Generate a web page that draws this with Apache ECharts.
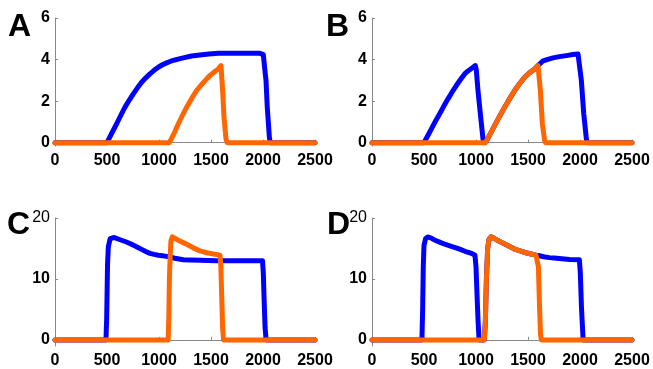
<!DOCTYPE html>
<html>
<head>
<meta charset="utf-8">
<script src="https://cdn.jsdelivr.net/npm/echarts@6/dist/echarts.min.js"></script>
<style>
  html, body { margin: 0; padding: 0; background: #fff; }
  #chart { width: 653px; height: 369px; }
</style>
</head>
<body>
<div id="chart"></div>
<script>
// Time axis (ms) shared by all four panels
const xTicks = [0, 500, 1000, 1500, 2000, 2500];
const yTicksTop = [0, 2, 4, 6];
const yTicksBottom = [0, 10, 20];
const panelLetters = ['A', 'B', 'C', 'D'];

// Panel A
const aBlueT = [0, 500, 510, 550, 593, 633, 673, 713, 753, 793, 833, 873, 913, 953, 993, 1033, 1073, 1113, 1153, 1193, 1233, 1313, 1394, 1480, 1570, 1750, 1971, 2003, 2020, 2029, 2041, 2061, 2070, 2500];
const aBlueV = [0, 0, 0.08, 0.5, 0.91, 1.32, 1.71, 2.04, 2.35, 2.64, 2.91, 3.12, 3.31, 3.48, 3.63, 3.75, 3.84, 3.92, 3.98, 4.03, 4.08, 4.17, 4.22, 4.27, 4.3, 4.3, 4.3, 4.24, 3.4, 2.99, 1.71, 0.27, 0, 0];
const aOrangeT = [0, 1100, 1110, 1150, 1186, 1226, 1266, 1314, 1362, 1410, 1459, 1495, 1530, 1570, 1596, 1612, 1625, 1644, 1655, 2500];
const aOrangeV = [0, 0, 0.08, 0.5, 0.91, 1.32, 1.71, 2.13, 2.51, 2.8, 3.07, 3.25, 3.4, 3.55, 3.71, 2.51, 1.23, 0.19, 0, 0];

// Panel B
const bBlueT = [0, 500, 507, 545, 580, 615, 651, 691, 731, 771, 811, 851, 891, 920, 950, 993, 1003, 1019, 1045, 1067, 1075, 1090, 1100, 1140, 1180, 1228, 1276, 1324, 1372, 1420, 1468, 1516, 1564, 1596, 1640, 1690, 1740, 1800, 1869, 1930, 1981, 2000, 2013, 2036, 2061, 2070, 2500];
const bBlueV = [0, 0, 0.08, 0.42, 0.75, 1.08, 1.39, 1.76, 2.11, 2.44, 2.75, 3.04, 3.31, 3.44, 3.55, 3.71, 3.5, 2.51, 1.23, 0.19, 0, 0, 0.08, 0.45, 0.83, 1.28, 1.71, 2.12, 2.51, 2.85, 3.15, 3.37, 3.55, 3.71, 3.92, 4.01, 4.08, 4.14, 4.19, 4.24, 4.27, 4.2, 2.99, 1.39, 0.19, 0, 0];
const bOrangeT = [0, 1090, 1100, 1140, 1180, 1228, 1276, 1324, 1372, 1420, 1468, 1516, 1564, 1596, 1619, 1638, 1660, 1668, 2500];
const bOrangeV = [0, 0, 0.08, 0.45, 0.83, 1.28, 1.71, 2.12, 2.51, 2.85, 3.15, 3.37, 3.55, 3.71, 2.51, 0.91, 0.1, 0, 0];

// Panel C
const cBlueT = [0, 490, 497, 505, 513, 530, 545, 570, 600, 640, 680, 715, 753, 793, 833, 873, 913, 953, 993, 1033, 1073, 1113, 1153, 1193, 1233, 1300, 1400, 1554, 1995, 2003, 2010, 2020, 2030, 2500];
const cBlueV = [0, 0, 3.6, 12.3, 15.3, 16.6, 16.9, 16.8, 16.6, 16.35, 16.1, 15.85, 15.55, 15.2, 14.85, 14.5, 14.2, 14.03, 13.9, 13.8, 13.7, 13.55, 13.4, 13.27, 13.15, 13.1, 13.05, 13.0, 13.0, 11, 7, 2, 0, 0];
const cOrangeT = [0, 1088, 1095, 1100, 1108, 1115, 1128, 1160, 1190, 1228, 1266, 1298, 1330, 1362, 1394, 1430, 1460, 1490, 1522, 1555, 1586, 1595, 1605, 1612, 1620, 2500];
const cOrangeV = [0, 0, 4, 10, 14, 16.3, 16.9, 16.6, 16.3, 16.0, 15.7, 15.4, 15.1, 14.85, 14.6, 14.45, 14.3, 14.2, 14.1, 14.0, 13.9, 12, 6, 2, 0, 0];

// Panel D
const dBlueT = [0, 480, 487, 493, 500, 515, 536, 570, 600, 650, 700, 755, 808, 855, 900, 935, 968, 990, 1000, 1010, 1020, 1030, 1080, 1090, 1100, 1112, 1125, 1144, 1170, 1200, 1245, 1290, 1338, 1385, 1432, 1480, 1530, 1577, 1600, 1650, 1705, 1750, 1800, 1900, 1994, 2003, 2015, 2030, 2500];
const dBlueV = [0, 0, 5, 12, 15.5, 16.6, 16.9, 16.7, 16.4, 16.05, 15.7, 15.4, 15.1, 14.8, 14.5, 14.3, 14.1, 13.9, 12, 7.4, 3, 0, 0, 3, 10, 15, 16.5, 16.9, 16.7, 16.4, 16.0, 15.6, 15.2, 14.8, 14.55, 14.3, 14.1, 13.9, 13.85, 13.65, 13.5, 13.42, 13.35, 13.2, 13.15, 11, 5, 0, 0];
const dOrangeT = [0, 1080, 1090, 1100, 1112, 1125, 1144, 1170, 1200, 1245, 1290, 1338, 1385, 1432, 1480, 1530, 1577, 1593, 1600, 1610, 1620, 1628, 2500];
const dOrangeV = [0, 0, 3, 10, 15, 16.5, 16.9, 16.7, 16.4, 16.0, 15.6, 15.2, 14.8, 14.55, 14.3, 14.1, 13.9, 13.8, 12, 6, 1, 0, 0];

const BLUE = '#0000ff';
const ORANGE = '#ff6600';
const AXIS_GREY = '#888888';
const FONT = 'Liberation Sans, Arial, sans-serif';

const zip = (t, v) => t.map((x, i) => [x, v[i]]);

const panels = [
  { left: 55,  top: 18,  blue: zip(aBlueT, aBlueV), orange: zip(aOrangeT, aOrangeV), yMin: -0.16, yMax: 6,  yTicks: yTicksTop },
  { left: 372, top: 18,  blue: zip(bBlueT, bBlueV), orange: zip(bOrangeT, bOrangeV), yMin: -0.16, yMax: 6,  yTicks: yTicksTop },
  { left: 55,  top: 218, blue: zip(cBlueT, cBlueV), orange: zip(cOrangeT, cOrangeV), yMin: -1,    yMax: 20, yTicks: yTicksBottom },
  { left: 372, top: 218, blue: zip(dBlueT, dBlueV), orange: zip(dOrangeT, dOrangeV), yMin: -1,    yMax: 20, yTicks: yTicksBottom }
];

const grid = [], xAxis = [], yAxis = [], series = [], graphic = [];

const axisCommon = {
  axisLine: { show: true, lineStyle: { color: AXIS_GREY, width: 1 } },
  axisTick: { show: true, inside: true, length: 3, lineStyle: { color: AXIS_GREY } },
  splitLine: { show: false }
};

panels.forEach((p, i) => {
  grid.push({ left: p.left, top: p.top, width: 260, height: 128 });
  xAxis.push(Object.assign({}, axisCommon, {
    type: 'value', gridIndex: i, min: 0, max: 2500, interval: 500,
    axisLabel: { color: '#000', fontWeight: 'bold', fontSize: 16, fontFamily: FONT, margin: 7,
      customValues: xTicks, showMinLabel: true, showMaxLabel: true,
      formatter: v => String(v) },
    axisTick: Object.assign({}, axisCommon.axisTick, { customValues: xTicks })
  }));
  const top = p.yTicks[p.yTicks.length - 1];
  yAxis.push(Object.assign({}, axisCommon, {
    type: 'value', gridIndex: i, min: p.yMin, max: p.yMax,
    axisLabel: {
      margin: 5, customValues: p.yTicks,
      formatter: v => (top === 20 && v === 20) ? '{n|' + v + '}' : '{b|' + v + '}',
      rich: {
        b: { color: '#000', fontWeight: 'bold', fontSize: 16, fontFamily: FONT },
        n: { color: '#000', fontWeight: 'normal', fontSize: 16, fontFamily: FONT }
      }
    },
    axisTick: Object.assign({}, axisCommon.axisTick, { customValues: p.yTicks })
  }));
  const lineBase = { type: 'line', xAxisIndex: i, yAxisIndex: i, showSymbol: false, animation: false };
  series.push(Object.assign({}, lineBase, {
    data: p.blue, z: 2, lineStyle: { color: BLUE, width: 5, cap: 'round', join: 'round' }
  }));
  series.push(Object.assign({}, lineBase, {
    data: p.orange, z: 3, lineStyle: { color: ORANGE, width: 5, cap: 'round', join: 'round' }
  }));
});

// Panel letters
const letterPos = [[20, 27], [338, 27], [19, 225], [339, 225]];
panelLetters.forEach((L, i) => {
  graphic.push({
    type: 'text', left: letterPos[i][0] - 12, top: letterPos[i][1] - 16,
    style: { text: L, fill: '#000', font: 'bold 32px ' + FONT }
  });
});

const chart = echarts.init(document.getElementById('chart'), null, { renderer: 'canvas' });
chart.setOption({ animation: false, grid, xAxis, yAxis, series, graphic });
</script>
</body>
</html>
